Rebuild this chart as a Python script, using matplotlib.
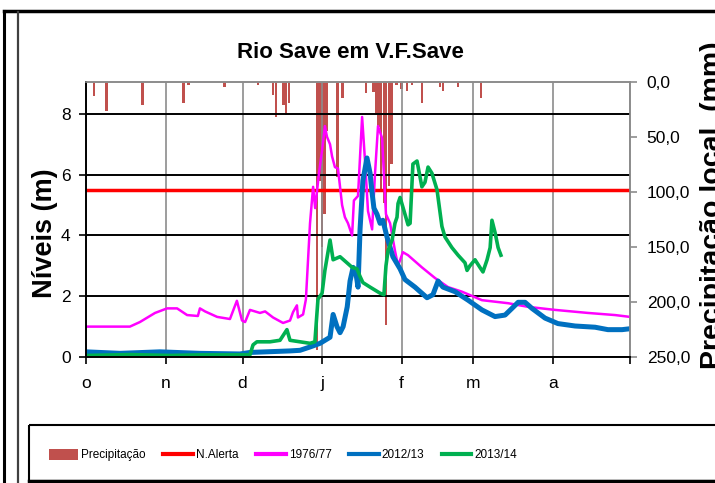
import matplotlib
matplotlib.use("Agg")
import matplotlib.pyplot as plt
from matplotlib.lines import Line2D
from matplotlib.patches import Patch, Rectangle
from matplotlib.ticker import FuncFormatter

plt.rcParams['font.family'] = ['Liberation Sans', 'DejaVu Sans']

# days counted from 1 October
month_ticks = [0, 31, 61, 92, 123, 151, 182, 212]
month_labels = ['o', 'n', 'd', 'j', 'f', 'm', 'a', '']

alert_level = 5.5

# precipitação local (mm), day of the season
rain_day = [0, 3, 8, 22, 38, 40, 54, 67, 73, 74, 77, 78, 79, 90, 91, 92, 93, 94,
            98, 100, 109, 112, 113, 114, 115, 116, 117, 118, 119, 121, 123, 125,
            127, 131, 138, 139, 145, 154]
rain_mm = [3, 13, 26, 21, 19, 3, 5, 3, 12, 32, 21, 30, 19, 244, 90, 150, 120, 45,
           86, 15, 10, 9, 30, 41, 100, 110, 221, 95, 75, 3, 6, 8, 3, 19, 5, 8, 5, 15]

# 1976/77
day_7677 = [0, 17.1, 21.0, 26.9, 31.6, 35.5, 39.4, 43.6, 44.4, 46.4, 51.1, 56.1,
            58.8, 60.8, 62.0, 63.9, 67.8, 69.8, 72.9, 76.8, 79.5, 80.7, 82.2, 82.6,
            84.6, 85.7, 87.3, 88.5, 89.3, 90.8, 92.0, 93.1, 93.9, 95.1, 95.9, 97.0,
            98.2, 99.0, 99.8, 100.9, 102.1, 103.7, 104.4, 106.0, 107.6, 108.7,
            109.9, 111.5, 112.6, 113.8, 115.4, 116.1, 116.9, 118.5, 120.4, 121.6,
            123.5, 125.5, 130.9, 136.0, 141.1, 146.5, 154.3, 164.5, 172.3, 182.8,
            195.6, 206.2, 212.0]
lvl_7677 = [1.0, 1.0, 1.15, 1.45, 1.6, 1.6, 1.38, 1.35, 1.6, 1.5, 1.32, 1.25,
            1.85, 1.2, 1.15, 1.55, 1.45, 1.5, 1.3, 1.12, 1.2, 1.48, 1.7, 1.3,
            1.4, 1.9, 4.4, 5.6, 4.9, 6.05, 6.8, 7.6, 7.25, 7.0, 6.6, 6.25,
            6.2, 5.6, 5.0, 4.6, 4.4, 4.0, 5.15, 5.3, 7.9, 6.5,
            4.8, 4.2, 6.0, 7.6, 7.2, 6.0, 4.7, 4.4, 3.5, 3.0,
            3.45, 3.35, 2.95, 2.6, 2.3, 2.15, 1.87, 1.77, 1.65, 1.55,
            1.45, 1.38, 1.32]

# 2012/13
day_1213 = [0, 13.3, 28.8, 44.4, 60.0, 63.9, 79.5, 83.4, 87.3, 91.2, 95.1, 96.3,
            97.8, 99.0, 100.2, 101.8, 102.9, 104.1, 105.2, 106.0, 106.8, 107.9,
            109.5, 110.7, 111.5, 112.2, 113.4, 114.6, 115.7, 117.3, 119.6, 122.4,
            124.3, 128.2, 132.9, 135.2, 137.2, 139.1, 143.8, 148.9, 154.3, 159.4,
            163.3, 166.0, 168.4, 171.1, 173.8, 178.9, 183.9, 190.6, 198.4, 203.4,
            208.9, 212.0]
lvl_1213 = [0.17, 0.12, 0.17, 0.12, 0.1, 0.15, 0.2, 0.22, 0.33, 0.45, 0.65, 1.4,
            1.0, 0.8, 1.0, 1.65, 2.5, 2.95, 2.75, 2.3, 4.2, 5.8,
            6.55, 6.05, 5.4, 4.9, 4.7, 4.4, 4.5, 3.95, 3.3, 2.9,
            2.55, 2.3, 1.95, 2.05, 2.5, 2.3, 2.15, 1.87, 1.55, 1.33,
            1.38, 1.6, 1.8, 1.8, 1.6, 1.28, 1.1, 1.02, 0.98, 0.9,
            0.9, 0.93]

# 2013/14
day_1314 = [0, 17.1, 32.7, 44.4, 63.9, 65.1, 66.6, 71.7, 75.6, 78.3, 79.5, 83.4,
            87.3, 89.2, 90.4, 92.0, 93.1, 95.1, 96.3, 99.0, 101.7, 103.7, 105.6,
            106.8, 107.9, 110.7, 114.6, 116.1, 116.9, 117.7, 119.3, 120.4, 121.2,
            121.6, 122.4, 124.3, 125.5, 126.3, 127.4, 129.0, 130.9, 132.1, 133.3,
            134.8, 136.8, 138.7, 139.9, 142.6, 145.0, 147.7, 148.5, 149.6, 151.6,
            153.5, 154.7, 156.3, 157.5, 158.2, 159.4, 160.6, 161.7]
lvl_1314 = [0.05, 0.08, 0.05, 0.07, 0.07, 0.4, 0.5, 0.5, 0.55, 0.9, 0.55, 0.5,
            0.45, 0.5, 1.9, 2.1, 2.85, 3.85, 3.2, 3.3, 3.1, 2.95, 2.9,
            2.65, 2.45, 2.3, 2.1, 2.05, 3.0, 3.5, 3.85, 4.4, 4.6,
            5.05, 5.25, 4.7, 4.35, 4.4, 6.35, 6.45, 5.6, 5.75, 6.25,
            6.05, 5.5, 4.3, 3.95, 3.6, 3.35, 3.1, 2.85, 3.0, 3.2,
            2.95, 2.8, 3.2, 3.6, 4.5, 4.1, 3.6, 3.35]

c_rain = '#C0504D'
c_alert = '#FF0000'
c_7677 = '#FF00FF'
c_1213 = '#0070C0'
c_1314 = '#00B050'

fig = plt.figure(figsize=(7.15, 4.83), dpi=100)

# frame lines around the chart (pixel coordinates)
bg = fig.add_axes([0, 0, 1, 1])
bg.set_xlim(0, 715)
bg.set_ylim(483, 0)
bg.axis('off')
bg.plot([4, 715], [11, 11], color='black', lw=2.5)
bg.plot([4, 4], [11, 483], color='black', lw=2.2)
bg.plot([18, 18], [12, 483], color='#404040', lw=1.6)
bg.add_patch(Rectangle((29, 425), 700, 56, fill=False, edgecolor='black', lw=1.5))
bg.plot([29, 715], [481, 481], color='black', lw=2.5)

ax = fig.add_axes([86 / 715, 1 - 357 / 483, 544 / 715, 275 / 483])
ax2 = ax.twinx()
ax.set_zorder(ax2.get_zorder() + 1)
ax.patch.set_visible(False)

ax2.bar(rain_day, rain_mm, width=0.9, color=c_rain, align='center')
ax2.set_ylim(250, 0)
ax2.set_yticks([0, 50, 100, 150, 200, 250])
ax2.yaxis.set_major_formatter(FuncFormatter(lambda v, p: f"{v:.1f}".replace('.', ',')))

ax.axhline(alert_level, color=c_alert, lw=2.5)
ax.plot(day_7677, lvl_7677, color=c_7677, lw=1.8)
ax.plot(day_1213, lvl_1213, color=c_1213, lw=3.6)
ax.plot(day_1314, lvl_1314, color=c_1314, lw=2.6)

ax.set_xlim(0, 212)
ax.set_ylim(0, 9.05)
ax.set_yticks([0, 2, 4, 6, 8])
ax.set_xticks(month_ticks)
ax.set_xticklabels(month_labels)
ax.set_axisbelow(True)
ax.grid(axis='x', color='#8C8C8C', lw=1.2)
ax.grid(axis='y', color='black', lw=1.4)

for a in (ax, ax2):
    for s in a.spines.values():
        s.set_color('#8C8C8C')
        s.set_linewidth(1.2)
ax.spines['left'].set_color('black')
ax.spines['left'].set_linewidth(1.4)
ax.spines['bottom'].set_color('black')
ax.spines['bottom'].set_linewidth(1.4)
ax2.spines['left'].set_visible(False)
ax2.spines['bottom'].set_visible(False)

ax.tick_params(axis='y', labelsize=12.5, length=5, width=1.2, pad=6)
ax.tick_params(axis='x', labelsize=12.5, length=5, width=1.2, pad=9)
ax2.tick_params(axis='y', labelsize=12.5, length=5, width=1.2, color='#8C8C8C', pad=7)

fig.text(350 / 715, 1 - 53 / 483, 'Rio Save em V.F.Save', ha='center', va='center',
         fontsize=16, fontweight='bold')
fig.text(45 / 715, 1 - 233 / 483, 'Níveis (m)', ha='center', va='center',
         rotation=90, fontsize=19.5, fontweight='bold')
fig.text(713 / 715, 1 - 205 / 483, 'Precipitação local  (mm)', ha='center', va='center',
         rotation=90, fontsize=20.5, fontweight='bold')

handles = [Patch(facecolor=c_rain, edgecolor='none'),
           Line2D([], [], color=c_alert, lw=3),
           Line2D([], [], color=c_7677, lw=3),
           Line2D([], [], color=c_1213, lw=3),
           Line2D([], [], color=c_1314, lw=3)]
labels = ['Precipitação', 'N.Alerta', '1976/77', '2012/13', '2013/14']
fig.legend(handles, labels, loc='center left', bbox_to_anchor=(38 / 715, 1 - 455 / 483),
           ncol=5, frameon=False, fontsize=8.5, handlelength=2.5, handleheight=1.1,
           handletextpad=0.25, columnspacing=1.5)

fig.savefig('out.png', dpi=100)
